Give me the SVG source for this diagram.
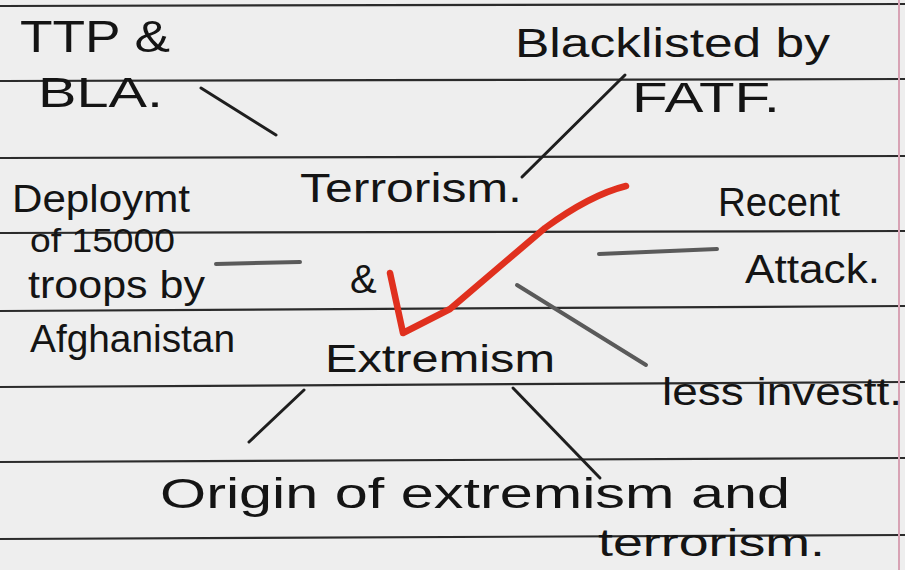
<svg xmlns="http://www.w3.org/2000/svg" width="905" height="570" viewBox="0 0 905 570">
<style>
.rule{stroke:#2b2b2b;stroke-width:2.2;fill:none}
.t{font-family:"Liberation Sans","DejaVu Sans",sans-serif;fill:#141414;font-weight:normal}
.c{stroke:#1e1e1e;stroke-width:3;stroke-linecap:round;fill:none}
.g{stroke:#5a5a5a;stroke-width:4;stroke-linecap:round;fill:none}
</style>
<rect x="0" y="0" width="905" height="570" fill="#eeeeee"/>
<g id="paper">
<line class="rule" x1="0" y1="6" x2="905" y2="4"/>
<line class="rule" x1="0" y1="81" x2="905" y2="79"/>
<line class="rule" x1="0" y1="158" x2="905" y2="156"/>
<line class="rule" x1="0" y1="233" x2="905" y2="231"/>
<line class="rule" x1="0" y1="311" x2="905" y2="306"/>
<line class="rule" x1="0" y1="387" x2="905" y2="382"/>
<line class="rule" x1="0" y1="462" x2="905" y2="458"/>
<line class="rule" x1="0" y1="539" x2="905" y2="535"/>
<line x1="899" y1="0" x2="899" y2="570" stroke="#d8a2b4" stroke-width="2"/>
</g>
<g id="connectors">
<line class="c" x1="201" y1="88" x2="276" y2="135"/>
<line class="c" x1="625" y1="75" x2="522" y2="177"/>
<line class="g" x1="216" y1="264" x2="300" y2="262" stroke-width="3.5"/>
<line class="g" x1="599" y1="254" x2="717" y2="249"/>
<line class="g" x1="517" y1="285" x2="646" y2="365"/>
<line class="c" x1="304" y1="390" x2="249" y2="442"/>
<line class="c" x1="513" y1="388" x2="600" y2="478"/>
</g>
<g id="center">
<text class="t" x="300" y="202" font-size="40" textLength="222" lengthAdjust="spacingAndGlyphs">Terrorism.</text>
<text class="t" x="350" y="293" font-size="40">&amp;</text>
<text class="t" x="325" y="372" font-size="38" textLength="230" lengthAdjust="spacingAndGlyphs">Extremism</text>
</g>
<g id="ttp-bla">
<text class="t" x="20" y="52" font-size="44" textLength="150" lengthAdjust="spacingAndGlyphs">TTP &amp;</text>
<text class="t" x="38" y="107" font-size="42" textLength="125" lengthAdjust="spacingAndGlyphs">BLA.</text>
</g>
<g id="fatf">
<text class="t" x="515" y="57" font-size="40" textLength="315" lengthAdjust="spacingAndGlyphs">Blacklisted by</text>
<text class="t" x="632" y="112" font-size="42" textLength="148" lengthAdjust="spacingAndGlyphs">FATF.</text>
</g>
<g id="deployment">
<text class="t" x="12" y="212" font-size="38" textLength="178" lengthAdjust="spacingAndGlyphs">Deploymt</text>
<text class="t" x="30" y="252" font-size="34" textLength="145" lengthAdjust="spacingAndGlyphs">of 15000</text>
<text class="t" x="28" y="298" font-size="38" textLength="177" lengthAdjust="spacingAndGlyphs">troops by</text>
<text class="t" x="30" y="352" font-size="38" textLength="205" lengthAdjust="spacingAndGlyphs">Afghanistan</text>
</g>
<g id="recent-attack">
<text class="t" x="718" y="216" font-size="40" textLength="122" lengthAdjust="spacingAndGlyphs">Recent</text>
<text class="t" x="745" y="283" font-size="40" textLength="135" lengthAdjust="spacingAndGlyphs">Attack.</text>
</g>
<g id="investment">
<text class="t" x="662" y="405" font-size="38" textLength="240" lengthAdjust="spacingAndGlyphs">less investt.</text>
</g>
<g id="origin">
<text class="t" x="160" y="508" font-size="42" textLength="630" lengthAdjust="spacingAndGlyphs">Origin of extremism and</text>
<text class="t" x="598" y="556" font-size="38" textLength="227" lengthAdjust="spacingAndGlyphs">terrorism.</text>
</g>
<path d="M390,273 L403,333 L450,309 Q505,262 545,228 Q590,195 626,186" fill="none" stroke="#e0301e" stroke-width="6.5" stroke-linecap="round" stroke-linejoin="round"/>
</svg>
